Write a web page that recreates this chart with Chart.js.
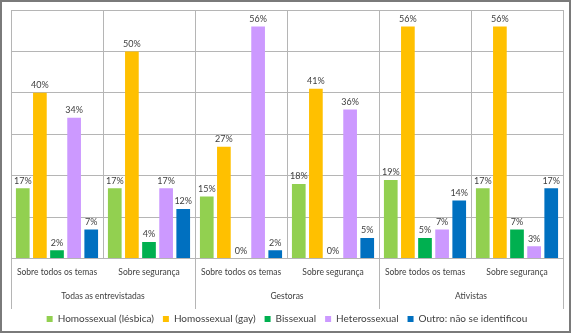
<!DOCTYPE html>
<html>
<head>
<meta charset="utf-8">
<script src="https://cdn.jsdelivr.net/npm/chart.js@4.4.1/dist/chart.umd.min.js"></script>
<style>
    html, body { margin: 0; padding: 0; background: #ffffff; }
    #box {
        position: relative;
        width: 567px;
        height: 329px;
        border: 2px solid #7a7a7a;
        background: #ffffff;
    }
</style>
</head>
<body>
<div id="box"><canvas id="chart"></canvas></div>
<script>
// Categorias (nível 1) e grupos (nível 2)
const categories = [
    'Sobre todos os temas', 'Sobre segurança',
    'Sobre todos os temas', 'Sobre segurança',
    'Sobre todos os temas', 'Sobre segurança'
];
const groups = ['Todas as entrevistadas', 'Gestoras', 'Ativistas'];

// Séries (%)
const lesbica = [17, 17, 15, 18, 19, 17];
const gay = [40, 50, 27, 41, 56, 56];
const bissexual = [2, 4, 0, 0, 5, 7];
const heterossexual = [34, 17, 56, 36, 7, 3];
const outro = [7, 12, 2, 5, 14, 17];

const seriesNames = [
    'Homossexual (lésbica)', 'Homossexual (gay)', 'Bissexual',
    'Heterossexual', 'Outro: não se identificou'
];
const seriesColors = ['#92D050', '#FFC000', '#00B050', '#CC99FF', '#0070C0'];

const FONT = 'Lato, "Liberation Sans", sans-serif';
const gridColor = '#b5b5b5';

// Rótulos de valor em cima das barras
const valueLabels = {
    id: 'valueLabels',
    afterDatasetsDraw(chart) {
        const ctx = chart.ctx;
        ctx.save();
        ctx.font = '9px ' + FONT;
        ctx.fillStyle = '#404040';
        ctx.textAlign = 'center';
        ctx.textBaseline = 'bottom';
        chart.data.datasets.forEach((ds, i) => {
            const meta = chart.getDatasetMeta(i);
            meta.data.forEach((bar, j) => {
                ctx.fillText(ds.data[j] + '%', bar.x, bar.y - 3);
            });
        });
        ctx.restore();
    }
};

// Linhas separadoras entre grupos (descem até os rótulos dos grupos)
const groupLines = {
    id: 'groupLines',
    afterDraw(chart) {
        const x = chart.scales.x;
        const x2 = chart.scales.x2;
        const ctx = chart.ctx;
        const top = chart.chartArea.top;
        const bottom = x2.bottom + 4;
        const edges = [x.left];
        for (let g = 1; g < groups.length; g++) {
            const i = g * 2;
            edges.push((x.getPixelForValue(i - 1) + x.getPixelForValue(i)) / 2);
        }
        edges.push(x.right);
        ctx.save();
        ctx.strokeStyle = gridColor;
        ctx.lineWidth = 1;
        edges.forEach(px => {
            const xx = Math.round(px) + 0.5;
            ctx.beginPath();
            ctx.moveTo(xx, top);
            ctx.lineTo(xx, bottom);
            ctx.stroke();
        });
        ctx.restore();
    }
};

// Legenda um pouco mais baixa: altura fixa menor que a calculada
const legendHeight = {
    id: 'legendHeight',
    beforeInit(chart) {
        const legend = chart.legend;
        if (!legend) return;
        const fit = legend.fit.bind(legend);
        legend.fit = function() {
            fit();
            this.height = Math.min(this.height, 26);
        };
    }
};

const datasets = [lesbica, gay, bissexual, heterossexual, outro].map((d, i) => ({
    label: seriesNames[i],
    data: d,
    backgroundColor: seriesColors[i],
    borderWidth: 0,
    categoryPercentage: 0.93,
    barPercentage: 0.8
}));

new Chart(document.getElementById('chart'), {
    type: 'bar',
    data: { labels: categories, datasets: datasets },
    options: {
        responsive: true,
        maintainAspectRatio: false,
        animation: false,
        layout: { padding: { left: 9, right: 6, top: 8, bottom: 0 } },
        plugins: {
            legend: {
                position: 'bottom',
                labels: {
                    color: '#404040',
                    font: { family: FONT, size: 10 },
                    boxWidth: 6,
                    boxHeight: 6,
                    padding: 9
                }
            },
            tooltip: { enabled: false }
        },
        scales: {
            y: {
                min: 0,
                max: 60,
                ticks: { stepSize: 10, display: false },
                grid: { color: gridColor, drawTicks: false },
                border: { display: false }
            },
            x: {
                grid: { color: gridColor, offset: true, drawTicks: false },
                border: { color: gridColor },
                ticks: {
                    color: '#404040',
                    font: { family: FONT, size: 8.5 },
                    padding: 9,
                    maxRotation: 0,
                    autoSkip: false
                }
            },
            x2: {
                type: 'category',
                labels: groups,
                position: 'bottom',
                offset: true,
                grid: { display: false, drawTicks: false },
                border: { display: false },
                ticks: {
                    color: '#404040',
                    font: { family: FONT, size: 8.5 },
                    padding: 4,
                    maxRotation: 0,
                    autoSkip: false
                }
            }
        }
    },
    plugins: [valueLabels, groupLines, legendHeight]
});
</script>
</body>
</html>
